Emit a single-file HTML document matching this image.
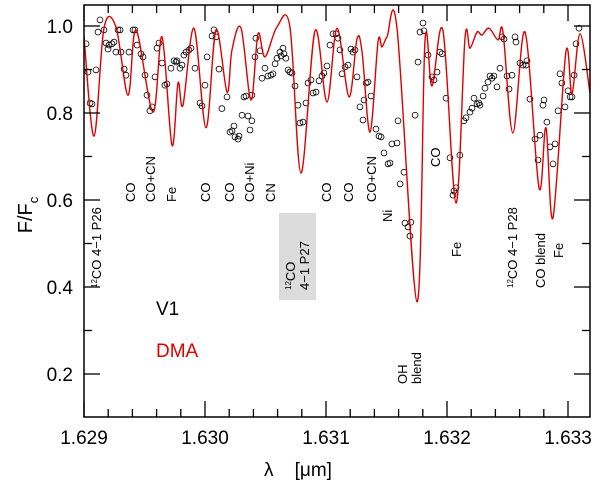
<!DOCTYPE html>
<html><head><meta charset="utf-8"><style>
html,body{margin:0;padding:0;background:#fff}
svg{display:block;font-family:"Liberation Sans",sans-serif}
</style></head><body>
<svg id="chart" width="600" height="485" viewBox="0 0 600 485" xmlns="http://www.w3.org/2000/svg">
<defs><clipPath id="clip"><rect x="84" y="5" width="506" height="412"/></clipPath></defs>
<rect x="279" y="213" width="37" height="87" fill="#dcdcdc"/>
<g id="obs" clip-path="url(#clip)"></g>
<path id="model" fill="none" stroke="#e00000" stroke-width="1.4" clip-path="url(#clip)"/>
<rect x="84" y="5" width="506" height="412" fill="none" stroke="#000" stroke-width="1.5"/>
<g id="ticks" stroke="#000" stroke-width="1.3"></g>
<g id="xlabels" font-size="19" text-anchor="middle" fill="#000"></g>
<g id="ylabels" font-size="19" text-anchor="end" fill="#000"></g>
<text x="298" y="476" font-size="19" text-anchor="middle">λ &#160;&#160; [μm]</text>
<text transform="translate(32,215) rotate(-90)" font-size="20" text-anchor="middle">F/F<tspan font-size="13" dy="6">c</tspan></text>
<text x="156" y="315" font-size="19" fill="#000">V1</text>
<text x="156" y="357" font-size="19" fill="#e00000">DMA</text>
<g font-size="13" fill="#000">
<text transform="translate(101,288) rotate(-90)"><tspan font-size="8" dy="-4">12</tspan><tspan dy="4">CO 4−1 P26</tspan></text>
<text transform="translate(135,202) rotate(-90)">CO</text>
<text transform="translate(155,202) rotate(-90)">CO+CN</text>
<text transform="translate(176,202) rotate(-90)">Fe</text>
<text transform="translate(210,202) rotate(-90)">CO</text>
<text transform="translate(234,202) rotate(-90)">CO</text>
<text transform="translate(254,202) rotate(-90)">CO+Ni</text>
<text transform="translate(275,202) rotate(-90)">CN</text>
<text transform="translate(295,290) rotate(-90)"><tspan font-size="8" dy="-4">12</tspan><tspan dy="4">CO</tspan></text>
<text transform="translate(309,290) rotate(-90)">4−1  P27</text>
<text transform="translate(331,202) rotate(-90)">CO</text>
<text transform="translate(353,202) rotate(-90)">CO</text>
<text transform="translate(376,202) rotate(-90)">CO+CN</text>
<text transform="translate(392,222) rotate(-90)">Ni</text>
<text transform="translate(440,167) rotate(-90)">CO</text>
<text transform="translate(461,257) rotate(-90)">Fe</text>
<text transform="translate(407,384) rotate(-90)">OH</text>
<text transform="translate(421,384) rotate(-90)">blend</text>
<text transform="translate(517,288) rotate(-90)"><tspan font-size="8" dy="-4">12</tspan><tspan dy="4">CO 4−1  P28</tspan></text>
<text transform="translate(545,288) rotate(-90)">CO blend</text>
<text transform="translate(563,258) rotate(-90)">Fe</text>
</g>
</svg>
<script>
const xTicks=[1.629,1.630,1.631,1.632,1.633];
const xTickLabels=["1.629","1.630","1.631","1.632","1.633"];
const yTicks=[0.2,0.4,0.6,0.8,1.0];
const yTickLabels=["0.2","0.4","0.6","0.8","1.0"];
const modelLam=[1.62900,1.629083,1.629165,1.629264,1.629364,1.62943,1.62957,1.629645,1.629727,1.629777,1.629818,1.629909,1.630008,1.630091,1.630182,1.630223,1.630298,1.63038,1.630438,1.630496,1.630595,1.630702,1.630793,1.630909,1.631008,1.631091,1.63119,1.631256,1.631298,1.631364,1.63143,1.631463,1.631504,1.631587,1.631752,1.631818,1.631876,1.631967,1.632074,1.632149,1.63219,1.632248,1.632289,1.632347,1.632421,1.632463,1.632545,1.632645,1.63276,1.632818,1.632876,1.632983,1.633033,1.633099,1.633182];
const modelFlux=[0.975,0.747,0.995,0.998,0.841,0.991,0.802,0.975,0.726,0.869,0.818,0.995,0.766,0.991,0.848,0.945,0.995,0.830,0.982,0.929,0.998,0.998,0.662,0.989,0.825,0.995,0.837,0.970,0.940,0.756,0.963,0.952,0.975,0.995,0.366,0.966,0.862,0.989,0.593,0.972,0.949,0.986,0.979,0.995,0.968,0.986,0.754,0.986,0.628,0.766,0.559,0.940,0.844,0.982,0.846];
const obsDLamNm=[0.017,0.033,0.050,0.066,0.099,0.116,0.132,0.165,0.182,0.198,0.207,0.231,0.248,0.264,0.281,0.298,0.306,0.331,0.347,0.372,0.405,0.421,0.438,0.471,0.488,0.504,0.521,0.545,0.562,0.587,0.603,0.620,0.645,0.669,0.686,0.719,0.744,0.760,0.769,0.793,0.810,0.826,0.843,0.868,0.884,0.917,0.959,0.975,1.000,1.017,1.058,1.074,1.091,1.116,1.140,1.182,1.207,1.223,1.240,1.248,1.273,1.281,1.306,1.322,1.339,1.355,1.372,1.388,1.388,1.413,1.421,1.455,1.471,1.496,1.521,1.545,1.562,1.579,1.595,1.620,1.628,1.645,1.653,1.669,1.686,1.702,1.719,1.744,1.769,1.785,1.810,1.835,1.851,1.876,1.893,1.917,1.942,1.967,1.983,2.008,2.033,2.058,2.083,2.099,2.116,2.132,2.157,2.182,2.207,2.223,2.240,2.256,2.281,2.306,2.314,2.331,2.347,2.372,2.413,2.438,2.455,2.479,2.512,2.529,2.545,2.587,2.595,2.612,2.645,2.653,2.678,2.694,2.702,2.736,2.760,2.777,2.802,2.810,2.843,2.876,2.893,2.917,2.942,2.959,2.992,3.025,3.050,3.058,3.074,3.107,3.140,3.157,3.190,3.207,3.223,3.248,3.264,3.273,3.298,3.314,3.339,3.355,3.372,3.388,3.413,3.438,3.455,3.471,3.496,3.512,3.537,3.562,3.570,3.603,3.628,3.653,3.661,3.686,3.727,3.752,3.769,3.793,3.802,3.826,3.851,3.876,3.893,3.917,3.934,3.950,3.975,4.000,4.017,4.033,4.050,4.066,4.091];
const obsFlux=[0.959,0.894,0.823,0.821,0.899,0.986,1.014,0.991,0.961,0.947,0.956,0.959,0.963,0.940,0.991,0.991,0.940,0.901,0.887,0.940,0.991,0.991,0.956,0.936,0.929,0.887,0.841,0.805,0.814,0.883,0.949,0.961,0.915,0.864,0.867,0.903,0.920,0.917,0.920,0.903,0.910,0.933,0.940,0.945,0.949,0.903,0.823,0.816,0.864,0.929,0.977,0.991,0.975,0.901,0.810,0.837,0.756,0.759,0.770,0.745,0.740,0.747,0.795,0.837,0.839,0.793,0.761,0.782,0.841,0.929,0.972,0.943,0.880,0.903,0.885,0.887,0.890,0.913,0.926,0.940,0.931,0.949,0.936,0.926,0.899,0.894,0.892,0.862,0.818,0.777,0.779,0.823,0.869,0.876,0.846,0.848,0.874,0.885,0.892,0.908,0.956,0.982,0.982,0.972,0.945,0.890,0.906,0.910,0.947,0.940,0.945,0.883,0.814,0.784,0.830,0.869,0.871,0.839,0.763,0.747,0.745,0.708,0.683,0.685,0.729,0.731,0.782,0.637,0.664,0.547,0.538,0.517,0.549,0.795,0.917,0.986,1.007,0.989,0.933,0.883,0.876,0.894,0.940,0.936,0.834,0.697,0.611,0.621,0.628,0.703,0.782,0.789,0.802,0.811,0.834,0.821,0.823,0.818,0.839,0.857,0.871,0.885,0.880,0.885,0.860,0.903,0.975,0.970,0.885,0.855,0.887,0.975,0.963,0.915,0.910,0.910,0.920,0.832,0.740,0.692,0.749,0.818,0.830,0.779,0.722,0.683,0.729,0.805,0.890,0.869,0.814,0.851,0.837,0.837,0.887,0.959,0.995];

const NS="http://www.w3.org/2000/svg";
const X=l=>84+(l-1.629)*121000;
const Y=f=>26+(1-f)*435;

const pts=modelLam.map((l,i)=>[X(l),Y(modelFlux[i])]);
let d="M"+pts[0][0].toFixed(1)+","+pts[0][1].toFixed(1);
for(let i=0;i<pts.length-1;i++){
  const p0=pts[Math.max(0,i-1)],p1=pts[i],p2=pts[i+1],p3=pts[Math.min(pts.length-1,i+2)];
  const c1=[p1[0]+(p2[0]-p0[0])/6,p1[1]+(p2[1]-p0[1])/6];
  const c2=[p2[0]-(p3[0]-p1[0])/6,p2[1]-(p3[1]-p1[1])/6];
  d+=" C"+c1.map(v=>v.toFixed(1))+" "+c2.map(v=>v.toFixed(1))+" "+p2.map(v=>v.toFixed(1));
}
document.getElementById('model').setAttribute('d',d);

const og=document.getElementById('obs');
obsDLamNm.forEach((dl,i)=>{
  const c=document.createElementNS(NS,'circle');
  c.setAttribute('cx',X(1.629+dl/1000).toFixed(1));
  c.setAttribute('cy',Y(obsFlux[i]).toFixed(1));
  c.setAttribute('r','2.9');
  c.setAttribute('fill','none');
  c.setAttribute('stroke','#000');
  c.setAttribute('stroke-width','0.8');
  
  
  og.appendChild(c);
});

const tg=document.getElementById('ticks');
function ln(x1,y1,x2,y2){const l=document.createElementNS(NS,'line');l.setAttribute('x1',x1);l.setAttribute('y1',y1);l.setAttribute('x2',x2);l.setAttribute('y2',y2);


tg.appendChild(l);}
for(let k=0;k<=21;k++){
  const l=1.629+k*0.0002; const x=X(l); if(x>590)break;
  const L=(k%5===0)?16:8;
  ln(x,417,x,417-L); ln(x,5,x,5+L);
}
for(let k=1;k<=10;k++){
  const f=0.1*k; const y=Y(f); if(y<5||y>417)continue;
  const L=(k%2===0)?16:8;
  ln(84,y,84+L,y); ln(590,y,590-L,y);
}
const xl=document.getElementById('xlabels');
xTicks.forEach((t,i)=>{const e=document.createElementNS(NS,'text');e.setAttribute('x',X(t));e.setAttribute('y',444);e.textContent=xTickLabels[i];


xl.appendChild(e);});
const yl=document.getElementById('ylabels');
yTicks.forEach((t,i)=>{const e=document.createElementNS(NS,'text');e.setAttribute('x',73);e.setAttribute('y',Y(t)+7);e.textContent=yTickLabels[i];


yl.appendChild(e);});
</script>
</body></html>
